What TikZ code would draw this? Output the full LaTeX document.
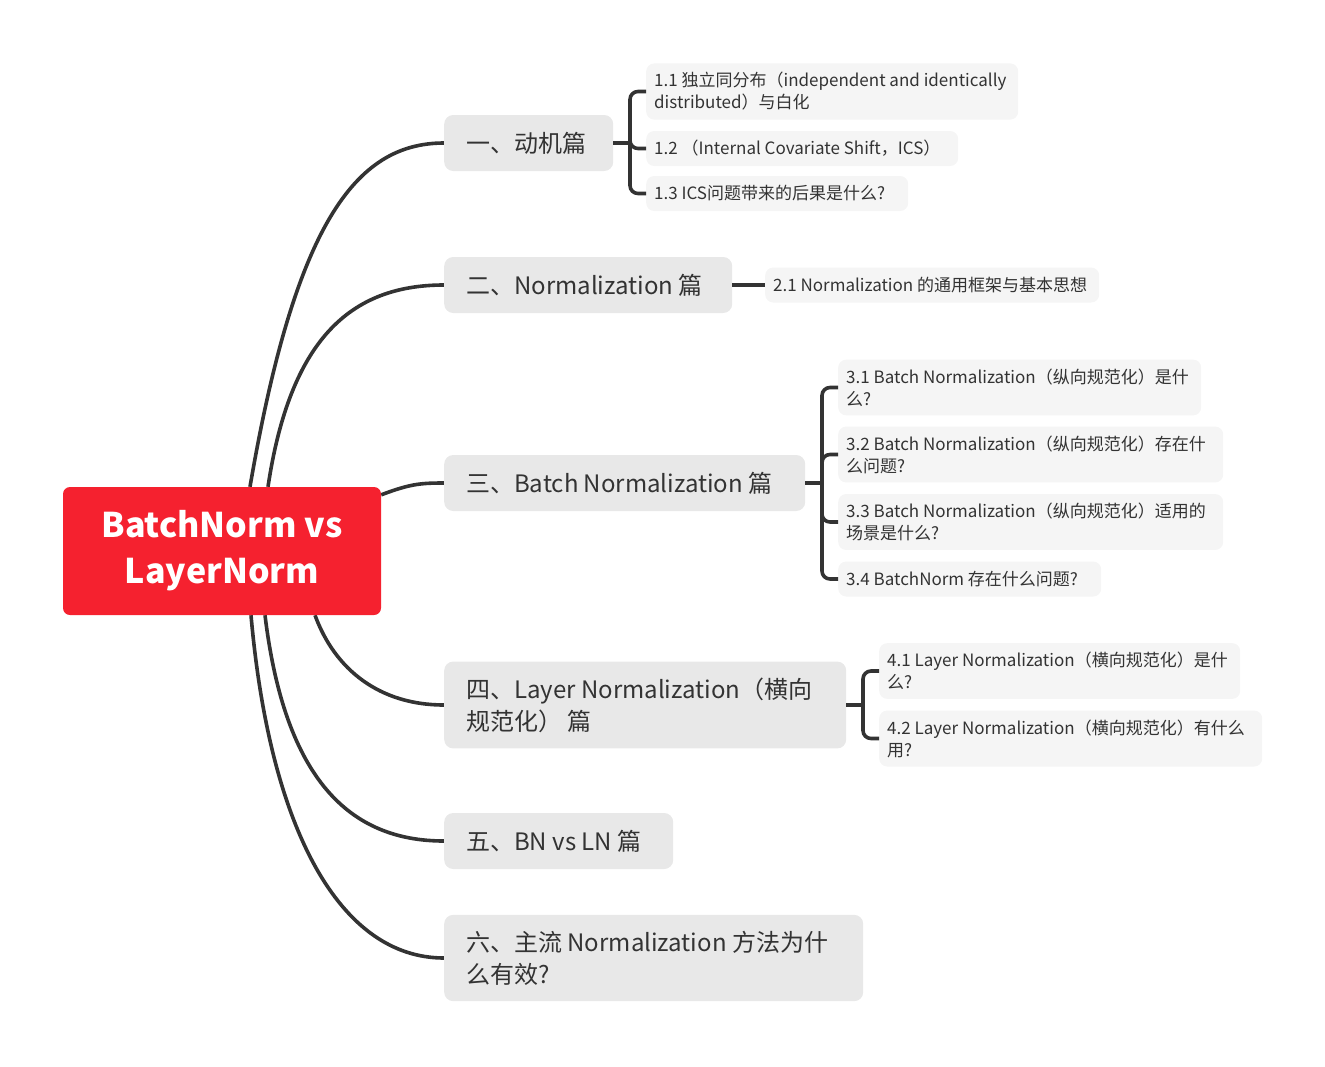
\documentclass[tikz,border=0pt]{standalone}
\usepackage{fontspec}
\setmainfont{Noto Sans CJK SC}
\usepackage{tikz}
\usetikzlibrary{calc,backgrounds}
\definecolor{rootred}{HTML}{F5212F}
\definecolor{topicgray}{HTML}{E8E8E8}
\definecolor{subgray}{HTML}{F5F5F5}
\definecolor{inkgray}{HTML}{333333}

\begin{document}
\begin{tikzpicture}[x=1pt,y=-1pt,
  root/.style={rectangle,rounded corners=7pt,fill=rootred,text=white,font=\fontsize{34}{46}\selectfont\bfseries,align=center,minimum width=318pt,minimum height=128pt,inner sep=0pt},
  topic/.style={rectangle,rounded corners=9pt,fill=topicgray,text=inkgray,font=\fontsize{24}{32}\selectfont,align=flush left,anchor=west,inner xsep=22pt,inner ysep=16pt,minimum height=56pt},
  sub/.style={rectangle,rounded corners=8pt,fill=subgray,text=inkgray,font=\fontsize{17}{22}\selectfont,align=flush left,anchor=west,inner xsep=8pt,inner ysep=9pt,minimum height=35pt},
  branch/.style={draw=inkgray,line width=3.6pt},
  bracket/.style={branch,rounded corners=8pt}]
\useasboundingbox (0,0) rectangle (1325,1066);
\node[root] (root) at (222,551) {BatchNorm vs\\LayerNorm};
\node[topic,text width=125pt] (t1) at (444,143) {一、动机篇};
\node[topic,text width=244pt] (t2) at (444,285) {二、Normalization 篇};
\node[topic,text width=317pt] (t3) at (444,483) {三、Batch Normalization 篇};
\node[topic,text width=358pt] (t4) at (444,705) {四、Layer Normalization（横向\\规范化） 篇};
\node[topic,text width=185pt] (t5) at (444,841) {五、BN vs LN 篇};
\node[topic,text width=375pt] (t6) at (444,958) {六、主流 Normalization 方法为什\\么有效?};
\node[sub,text width=356pt] (s11) at (646,91.5) {1.1 独立同分布（independent and identically\\distributed）与白化};
\node[sub,text width=296pt] (s12) at (646,148.5) {1.2 （Internal Covariate Shift，ICS）};
\node[sub,text width=246pt] (s13) at (646,193.5) {1.3 ICS问题带来的后果是什么?};
\node[sub,text width=318pt] (s21) at (765,285) {2.1 Normalization 的通用框架与基本思想};
\node[sub,text width=347pt] (s31) at (838,387.5) {3.1 Batch Normalization（纵向规范化）是什\\么?};
\node[sub,text width=369pt] (s32) at (838,454.5) {3.2 Batch Normalization（纵向规范化）存在什\\么问题?};
\node[sub,text width=369pt] (s33) at (838,522) {3.3 Batch Normalization（纵向规范化）适用的\\场景是什么?};
\node[sub,text width=247pt] (s34) at (838,579) {3.4 BatchNorm 存在什么问题?};
\node[sub,text width=345pt] (s41) at (879,671) {4.1 Layer Normalization（横向规范化）是什\\么?};
\node[sub,text width=367pt] (s42) at (879,738.5) {4.2 Layer Normalization（横向规范化）有什么\\用?};
\coordinate (j1) at (630,143);
\coordinate (j3) at (822,483);
\coordinate (j4) at (863,705);
\begin{scope}[on background layer]
\draw[branch] ($(root.north)+(28,0)$) .. controls (295,225) and (355,143) .. (t1.west);
\draw[branch] ($(root.north)+(46,0)$) .. controls (290,340) and (350,285) .. (t2.west);
\draw[branch] ($(root.north east)+(0,8)$) .. controls (410,484) and (420,483) .. (t3.west);
\draw[branch] ($(root.south)+(93,0)$) .. controls (335,670) and (380,705) .. (t4.west);
\draw[branch] ($(root.south)+(43,0)$) .. controls (285,780) and (350,841) .. (t5.west);
\draw[branch] ($(root.south)+(29,0)$) .. controls (270,830) and (340,958) .. (t6.west);
\end{scope}
\draw[branch] (t1.east) -- (j1);
\draw[bracket] (j1) |- (s11.west);
\draw[bracket] (j1) |- (s12.west);
\draw[bracket] (j1) |- (s13.west);
\draw[branch] (t2.east) -- (s21.west);
\draw[branch] (t3.east) -- (j3);
\draw[bracket] (j3) |- (s31.west);
\draw[bracket] (j3) |- (s32.west);
\draw[bracket] (j3) |- (s33.west);
\draw[bracket] (j3) |- (s34.west);
\draw[branch] (t4.east) -- (j4);
\draw[bracket] (j4) |- (s41.west);
\draw[bracket] (j4) |- (s42.west);
\end{tikzpicture}
\end{document}
